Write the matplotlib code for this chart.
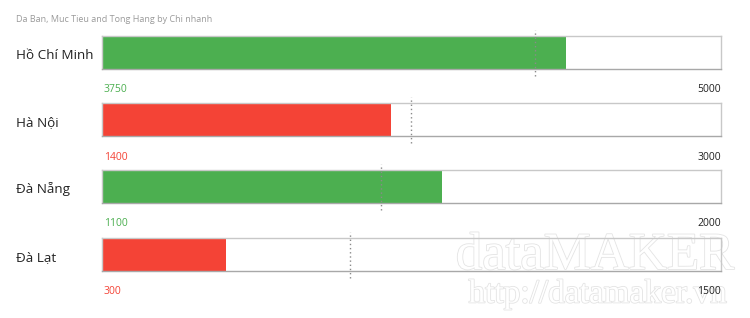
import matplotlib
matplotlib.use("Agg")
import matplotlib.pyplot as plt
import matplotlib.patheffects as pe

plt.rcParams['font.family'] = ['Open Sans', 'DejaVu Sans']

categories = ["Hồ Chí Minh", "Hà Nội", "Đà Nẵng", "Đà Lạt"]
values = [3750, 1400, 1100, 300]
targets = [3500, 1500, 900, 600]
maxima = [5000, 3000, 2000, 1500]
title = "Da Ban, Muc Tieu and Tong Hang by Chi nhanh"

W, H = 750, 318
fig = plt.figure(figsize=(W / 100, H / 100), dpi=100)

GREEN = "#4CAF50"
RED = "#F44336"

left_px, right_px = 102, 721
bar_tops = [36, 103, 170, 238]
bar_h = 33

# watermark (behind)
for txt, x, y, fs in [("dataMAKER", 595, 256, 38), ("http://datamaker.vn", 598, 294, 24)]:
    fig.text(x / W, 1 - y / H, txt, family="Liberation Serif", fontsize=fs,
             color="white", ha="center", va="center", zorder=-5,
             path_effects=[pe.withStroke(linewidth=1.2, foreground="#e4e4e4")])

fig.text(16 / W, 1 - 19 / H, title, fontsize=6.5, color="#9a9a9a", ha="left", va="center")

for cat, v, t, m, top in zip(categories, values, targets, maxima, bar_tops):
    ax = fig.add_axes([left_px / W, 1 - (top + bar_h) / H, (right_px - left_px) / W, bar_h / H])
    ax.patch.set_alpha(0)
    col = GREEN if v >= t else RED
    ax.barh(0.5, v, height=1, color=col, zorder=1)
    ax.vlines(t, -0.22, 1.18, colors="#8a8a8a", linestyles=(0, (1, 2)), linewidth=1,
              clip_on=False, zorder=3)
    ax.set_xlim(0, m)
    ax.set_ylim(0, 1)
    ax.set_xticks([])
    ax.set_yticks([])
    for s in ["top", "right", "left"]:
        ax.spines[s].set_color("#c8c8c8")
        ax.spines[s].set_linewidth(1)
    ax.spines["bottom"].set_color("#a8a8a8")
    ax.spines["bottom"].set_linewidth(1)
    cy = top + bar_h / 2
    fig.text(16 / W, 1 - (cy + 3) / H, cat, fontsize=9.7, color="#222222", ha="left", va="center")
    ly = top + bar_h + 21
    fig.text((left_px + 2) / W, 1 - ly / H, f"{v}", fontsize=7.5, color=col, ha="left", va="center")
    fig.text(right_px / W, 1 - ly / H, f"{m}", fontsize=7.5, color="#222222", ha="right", va="center")

fig.savefig("out.png", dpi=100, facecolor="white")
